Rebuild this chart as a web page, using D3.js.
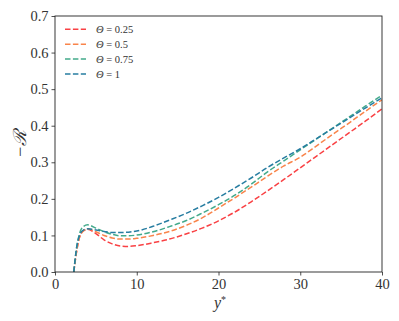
<!DOCTYPE html>
<html>
<head>
<meta charset="utf-8">
<script src="https://cdn.jsdelivr.net/npm/d3@7"></script>
<style>
  body { margin: 0; background: #fff; }
  #chart { width: 399px; height: 321px; }
  text { font-family: "Liberation Serif", "DejaVu Serif", serif; fill: #333; }
</style>
</head>
<body>
<div id="chart"></div>
<script>
// y* sample positions
const yStar = [2.3, 2.6, 3.0, 3.5, 4, 5, 6, 7, 8, 9, 10, 12, 14, 16, 18, 20, 22, 24, 26, 28, 30, 32, 34, 36, 38, 40];

// -R values, one list per Theta
const theta025 = [0, 0.05, 0.095, 0.113, 0.117, 0.105, 0.088, 0.077, 0.071, 0.070, 0.072, 0.080, 0.090, 0.104, 0.120, 0.140, 0.164, 0.192, 0.222, 0.253, 0.285, 0.317, 0.349, 0.381, 0.413, 0.446];
const theta05  = [0, 0.05, 0.095, 0.113, 0.118, 0.110, 0.100, 0.093, 0.090, 0.090, 0.092, 0.100, 0.111, 0.127, 0.148, 0.175, 0.203, 0.232, 0.262, 0.290, 0.314, 0.345, 0.377, 0.408, 0.440, 0.471];
const theta075 = [0, 0.06, 0.105, 0.125, 0.129, 0.120, 0.110, 0.103, 0.099, 0.099, 0.101, 0.110, 0.124, 0.140, 0.161, 0.184, 0.210, 0.240, 0.274, 0.304, 0.334, 0.364, 0.394, 0.424, 0.454, 0.483];
const theta1   = [0, 0.06, 0.100, 0.115, 0.118, 0.115, 0.111, 0.108, 0.108, 0.109, 0.112, 0.125, 0.142, 0.160, 0.181, 0.204, 0.230, 0.257, 0.286, 0.312, 0.337, 0.365, 0.393, 0.421, 0.449, 0.476];

const seriesNames = ["\u0398 = 0.25", "\u0398 = 0.5", "\u0398 = 0.75", "\u0398 = 1"];
const seriesColors = ["#f94144", "#f9844a", "#43aa8b", "#277da1"];
const xTicks = [0, 10, 20, 30, 40];
const yTicks = [0, 0.1, 0.2, 0.3, 0.4, 0.5, 0.6, 0.7];

const width = 399, height = 321;
const margin = {top: 16, left: 55, right: 17, bottom: 49};

const canvas = d3.select("#chart")
    .append("svg")
    .attr("width", width)
    .attr("height", height);

const xScale = d3.scaleLinear()
    .domain([0, 40])
    .range([margin.left, width - margin.right]);

const yScale = d3.scaleLinear()
    .domain([0, 0.7])
    .range([height - margin.bottom, margin.top]);

/*
  LINES
*/
const allSeries = [theta025, theta05, theta075, theta1];
const line = d3.line()
    .x(function(d, i) { return xScale(yStar[i]); })
    .y(function(d) { return yScale(d); })
    .curve(d3.curveMonotoneX);

canvas.append("defs").append("clipPath").attr("id", "clip")
  .append("rect")
    .attr("x", margin.left).attr("y", margin.top)
    .attr("width", width - margin.left - margin.right)
    .attr("height", height - margin.top - margin.bottom);

canvas.append("g")
    .attr("clip-path", "url(#clip)")
  .selectAll("path")
  .data(allSeries)
  .enter()
  .append("path")
    .attr("d", line)
    .attr("fill", "none")
    .attr("stroke", function(d, i) { return seriesColors[i]; })
    .attr("stroke-width", 1.5)
    .attr("stroke-dasharray", "5.5,2.4");

/*
  AXES
*/
const xAxis = canvas.append("g")
    .attr("transform", `translate(0,${height - margin.bottom})`)
    .call(d3.axisBottom(xScale).tickValues(xTicks).tickFormat(d3.format("d")).tickSize(3.5).tickPadding(3));

const yAxis = canvas.append("g")
    .attr("transform", `translate(${margin.left},0)`)
    .call(d3.axisLeft(yScale).tickValues(yTicks).tickFormat(d3.format(".1f")).tickSize(3.5).tickPadding(3));

canvas.selectAll(".tick line").attr("stroke", "#222").attr("stroke-width", 0.8);
canvas.selectAll(".domain").remove();
canvas.selectAll(".tick text")
    .style("font-size", "14.5px")
    .style("font-family", "'Liberation Serif', serif")
    .attr("fill", "#333");

// frame
canvas.append("rect")
    .attr("x", margin.left)
    .attr("y", margin.top)
    .attr("width", width - margin.left - margin.right)
    .attr("height", height - margin.top - margin.bottom)
    .attr("fill", "none")
    .attr("stroke", "#222")
    .attr("stroke-width", 0.9);

/*
  AXIS LABELS
*/
const xLabel = canvas.append("text")
    .attr("x", 220)
    .attr("y", 308)
    .attr("text-anchor", "middle")
    .style("font-size", "16px")
    .style("font-style", "italic");
xLabel.append("tspan").text("y");
xLabel.append("tspan").attr("dy", -5).style("font-size", "10px").style("font-style", "normal").text("*");

canvas.append("text")
    .attr("transform", "rotate(-90)")
    .attr("x", -(margin.top + height - margin.bottom) / 2)
    .attr("y", 26)
    .attr("text-anchor", "middle")
    .style("font-size", "18px")
    .style("font-style", "italic")
    .text("\u2212\u211B");

/*
  LEGEND
*/
const legend = canvas.append("g");
seriesNames.forEach(function(name, i) {
    const ly = 29.3 + i * 14.9;
    legend.append("line")
        .attr("x1", 65).attr("x2", 86)
        .attr("y1", ly).attr("y2", ly)
        .attr("stroke", seriesColors[i])
        .attr("stroke-width", 1.5)
        .attr("stroke-dasharray", "5.5,2.4");
    const t = legend.append("text")
        .attr("x", 96)
        .attr("y", ly + 3.5)
        .style("font-size", "10.5px");
    t.append("tspan").style("font-style", "italic").text("\u0398");
    t.append("tspan").text(name.slice(1));
});
</script>
</body>
</html>
